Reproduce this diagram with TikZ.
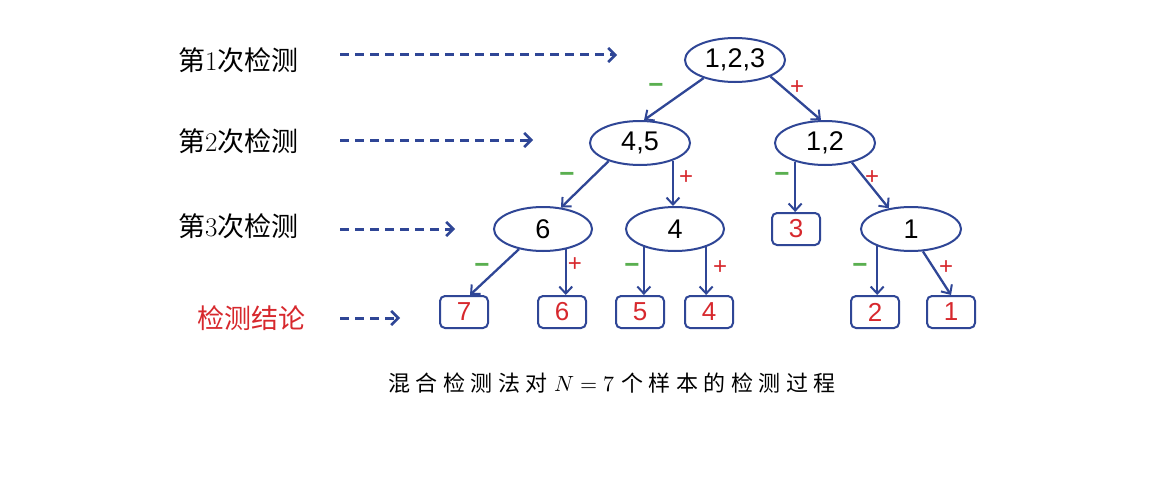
\documentclass[tikz,border=0pt]{standalone}
\usepackage{fontspec}
\usepackage{unicode-math}
\setmathfont{Latin Modern Math}
\newfontfamily\cjk{Noto Sans CJK SC}
\newfontfamily\cjkcap[LetterSpace=25]{Noto Sans CJK SC}
\newfontfamily\arial{Liberation Sans}
\usetikzlibrary{arrows.meta,shapes.geometric}
\definecolor{myblue}{RGB}{47,70,150}
\definecolor{myred}{RGB}{215,40,45}
\definecolor{mygreen}{RGB}{90,175,80}
\tikzset{
  ell/.style={ellipse, draw=myblue, line width=2pt, minimum width=100pt, minimum height=44pt, inner sep=0pt, font=\arial\fontsize{27}{30}\selectfont, fill=white},
  res/.style={rectangle, rounded corners=5pt, draw=myblue, line width=2pt, minimum width=48pt, minimum height=32pt, inner sep=0pt, text=myred, font=\arial\fontsize{26}{30}\selectfont},
  arr/.style={draw=myblue, line width=2.3pt, -{Straight Barb[length=7pt,width=13pt,line width=2pt]}},
  dasharr/.style={draw=myblue, line width=3pt, dash pattern=on 9pt off 6pt, -{Straight Barb[length=7pt,width=14pt,line width=2.6pt]}},
  lab/.style={font=\fontsize{27}{30}\selectfont, anchor=west, inner sep=0pt},
  negsign/.style={text=mygreen, font=\arial\bfseries\fontsize{26}{28}\selectfont, inner sep=0pt},
  possign/.style={text=myred, font=\arial\fontsize{24}{26}\selectfont, inner sep=0pt},
}
\begin{document}
\begin{tikzpicture}[x=1pt,y=-1pt]
\useasboundingbox[fill=white] (0,0) rectangle (1164,495);
% level labels
\node[lab] (l1) at (178,60) {{\cjk 第}1{\cjk 次检测}};
\node[lab] (l2) at (178,141) {{\cjk 第}2{\cjk 次检测}};
\node[lab] (l3) at (178,226) {{\cjk 第}3{\cjk 次检测}};
\node[lab, text=myred] (l4) at (197,318) {\cjk 检测结论};
% dashed arrows
\coordinate (d1s) at (340,55); \coordinate (d1e) at (617,55);
\coordinate (d2s) at (340,140); \coordinate (d2e) at (533,140);
\coordinate (d3s) at (340,229); \coordinate (d3e) at (455,229);
\coordinate (d4s) at (340,318); \coordinate (d4e) at (400,318);
\draw[dasharr] (d1s) -- (d1e);
\draw[dasharr] (d2s) -- (d2e);
\draw[dasharr] (d3s) -- (d3e);
\draw[dasharr] (d4s) -- (d4e);
% tree nodes
\node[ell] (n123) at (735,60) {1,2,3};
\node[ell] (n45) at (640,143) {4,5};
\node[ell] (n12) at (825,143) {1,2};
\node[ell, minimum width=98pt] (n6) at (543,229) {6};
\node[ell, minimum width=98pt] (n4) at (675,229) {4};
\node[ell, minimum width=100pt] (n1) at (911,229) {1};
\node[res] (b3) at (796,229) {3};
\node[res] (b7) at (464,312) {7};
\node[res] (b6) at (562,312) {6};
\node[res] (b5) at (640,312) {5};
\node[res] (b4) at (709,312) {4};
\node[res] (b2) at (875,312) {2};
\node[res] (b1) at (951,312) {1};
% connectors
\draw[arr] (n123.-150) -- (n45.80);
\draw[arr] (n123.-25) -- (n12.100);
\draw[arr] (n45.-150) -- (n6.50);
\draw[arr] (n45.-28) -- (n45.-28 |- n4.north);
\draw[arr] (n12.-148) -- (n12.-148 |- b3.north);
\draw[arr] (n12.-36) -- (n1.137);
\draw[arr] (n6.-140) -- ([xshift=6pt]b7.north);
\draw[arr] (n6.-42) -- (n6.-42 |- b6.north);
\draw[arr] (n4.-150) -- (n4.-150 |- b5.north);
\draw[arr] (n4.-30) -- (n4.-30 |- b4.north);
\draw[arr] (n1.-153) -- (n1.-153 |- b2.north);
\draw[arr] (n1.-62) -- (b1.north);
% signs
\node[negsign] (s1) at (656,88) {\textminus};
\node[possign] (s2) at (797,88) {+};
\node[negsign] (s3) at (567,177) {\textminus};
\node[possign] (s4) at (686,178) {+};
\node[negsign] (s5) at (782,177) {\textminus};
\node[possign] (s6) at (872,178) {+};
\node[negsign] (s7) at (482,268) {\textminus};
\node[possign] (s8) at (575,265) {+};
\node[negsign] (s9) at (632,268) {\textminus};
\node[possign] (s10) at (720,268) {+};
\node[negsign] (s11) at (860,268) {\textminus};
\node[possign] (s12) at (946,268) {+};
% caption
\node[inner sep=0pt] (cap) at (612,383) {\fontsize{22}{26}\selectfont{\cjkcap 混合检测法对} $N=7$ {\cjkcap 个样本的检测过程}};
\end{tikzpicture}
\end{document}
